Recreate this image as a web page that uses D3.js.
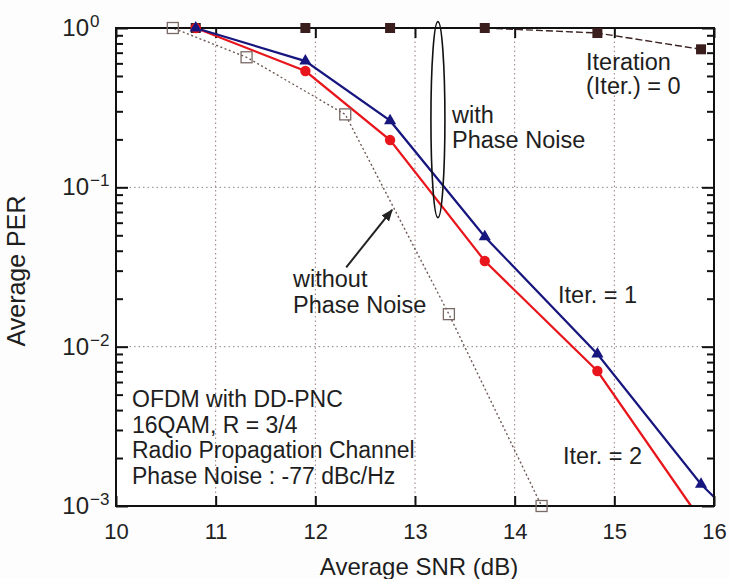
<!DOCTYPE html>
<html>
<head>
<meta charset="utf-8">
<script src="https://cdn.jsdelivr.net/npm/d3@7"></script>
<style>
  body { margin: 0; background: #fdfdfd; }
  svg { display: block; font-family: "Liberation Sans", Arial, sans-serif; }
</style>
</head>
<body>
<svg id="chart" width="729" height="579"></svg>
<script>
// ---- Data ----
const xTicks = [10, 11, 12, 13, 14, 15, 16];
const yMajorTicks = [1, 0.1, 0.01, 0.001];
const yTickExponents = ["0", "−1", "−2", "−3"];

// Iteration 0 (with phase noise)
const iter0X = [10.0, 10.8, 11.9, 12.75, 13.7, 14.83, 15.87];
const iter0Y = [1, 1, 1, 1, 1, 0.93, 0.735];
const iter0Marker = [false, true, true, true, true, true, true];

// Iteration 1 (with phase noise)
const iter1X = [10.0, 10.8, 11.9, 12.75, 13.7, 14.83, 15.87, 16.0];
const iter1Y = [1, 1, 0.62, 0.262, 0.049, 0.009, 0.00137, 0.00114];
const iter1Marker = [false, true, true, true, true, true, true, false];

// Iteration 2 (with phase noise)
const iter2X = [10.0, 10.8, 11.9, 12.75, 13.7, 14.83, 15.77];
const iter2Y = [1, 1, 0.537, 0.198, 0.0345, 0.00703, 0.001];
const iter2Marker = [false, true, true, true, true, true, false];

// Without phase noise
const noPnX = [10.0, 10.57, 11.31, 12.3, 13.34, 14.27];
const noPnY = [1, 1, 0.655, 0.287, 0.016, 0.001];
const noPnMarker = [false, true, true, true, true, true];

// ---- Layout ----
const svg = d3.select("#chart");
const pL = 116, pR = 714, pT = 28, pB = 506;
const x = d3.scaleLinear().domain([10, 16]).range([pL, pR]);
const y = d3.scaleLog().domain([0.001, 1]).range([pB, pT]);

svg.append("rect").attr("width", 729).attr("height", 579).attr("fill", "#fdfdfd");
svg.append("rect").attr("x", pL).attr("y", pT).attr("width", pR - pL).attr("height", pB - pT).attr("fill", "#ffffff");

// grid
const grid = svg.append("g");
grid.selectAll("line.vx").data(xTicks.slice(1, -1)).join("line")
  .attr("x1", d => x(d)).attr("x2", d => x(d)).attr("y1", pT).attr("y2", pB)
  .attr("stroke", "#9a7a78").attr("stroke-width", 1).attr("stroke-dasharray", "1.5,3");
grid.selectAll("line.hy").data([0.1, 0.01]).join("line")
  .attr("x1", pL).attr("x2", pR).attr("y1", d => y(d)).attr("y2", d => y(d))
  .attr("stroke", "#888").attr("stroke-width", 1).attr("stroke-dasharray", "1.5,3");

// minor y ticks
const yMinor = [];
[0.001, 0.01, 0.1].forEach(b => { for (let k = 2; k <= 9; k++) yMinor.push(b * k); });

function styleAxis(g) {
  g.select(".domain").remove();
  g.selectAll(".tick line").attr("stroke", "#111").attr("stroke-width", 2);
}

svg.append("g").attr("transform", `translate(0,${pB})`)
  .call(d3.axisBottom(x).tickValues(xTicks).tickSize(-10).tickPadding(17).tickFormat(d3.format("d")))
  .call(styleAxis)
  .call(g => g.selectAll("text").attr("font-size", 22).attr("fill", "#222").attr("font-family", "Liberation Sans, Arial, sans-serif"));
svg.append("g").attr("transform", `translate(0,${pT})`)
  .call(d3.axisTop(x).tickValues(xTicks).tickSize(-10).tickFormat(""))
  .call(styleAxis);

svg.append("g").attr("transform", `translate(${pL},0)`)
  .call(d3.axisLeft(y).tickValues(yMajorTicks).tickSize(-12).tickFormat(""))
  .call(styleAxis);
svg.append("g").attr("transform", `translate(${pL},0)`)
  .call(d3.axisLeft(y).tickValues(yMinor).tickSize(-7).tickFormat(""))
  .call(styleAxis);
svg.append("g").attr("transform", `translate(${pR},0)`)
  .call(d3.axisRight(y).tickValues(yMajorTicks).tickSize(-12).tickFormat(""))
  .call(styleAxis);
svg.append("g").attr("transform", `translate(${pR},0)`)
  .call(d3.axisRight(y).tickValues(yMinor).tickSize(-7).tickFormat(""))
  .call(styleAxis);

// y tick labels 10^n
const yl = svg.append("g").attr("fill", "#222");
yMajorTicks.forEach((v, i) => {
  yl.append("text").attr("x", 89).attr("y", y(v) + 8).attr("text-anchor", "end")
    .attr("font-size", 24).text("10");
  yl.append("text").attr("x", 90).attr("y", y(v) - 1).attr("font-size", 17).text(yTickExponents[i]);
});

// lines
const line = d3.line().x(d => x(d[0])).y(d => y(d[1]));
const defs = svg.append("defs");
defs.append("clipPath").attr("id", "clip")
  .append("rect").attr("x", pL).attr("y", pT - 2).attr("width", pR - pL).attr("height", pB - pT + 4);
const lines = svg.append("g").attr("clip-path", "url(#clip)");

const zip = (xs, ys) => xs.map((v, i) => [v, ys[i]]);

lines.append("path").datum(zip(noPnX, noPnY)).attr("d", line)
  .attr("fill", "none").attr("stroke", "#6e5a55").attr("stroke-width", 1.4).attr("stroke-dasharray", "2,2.5");
lines.append("path").datum(zip(iter0X, iter0Y)).attr("d", line)
  .attr("fill", "none").attr("stroke", "#3b2222").attr("stroke-width", 1.4).attr("stroke-dasharray", "7,3");
lines.append("path").datum(zip(iter2X, iter2Y)).attr("d", line)
  .attr("fill", "none").attr("stroke", "#e8161c").attr("stroke-width", 2.2);
lines.append("path").datum(zip(iter1X, iter1Y)).attr("d", line)
  .attr("fill", "none").attr("stroke", "#16167e").attr("stroke-width", 2.2);

// frame
svg.append("rect").attr("x", pL).attr("y", pT).attr("width", pR - pL).attr("height", pB - pT)
  .attr("fill", "none").attr("stroke", "#111").attr("stroke-width", 2);

// markers
const mk = svg.append("g");
mk.selectAll("rect.op").data(zip(noPnX, noPnY).filter((d, i) => noPnMarker[i])).join("rect")
  .attr("x", d => x(d[0]) - 5.5).attr("y", d => y(d[1]) - 5.5).attr("width", 11).attr("height", 11)
  .attr("fill", "none").attr("stroke", "#7a6a65").attr("stroke-width", 1.3);
mk.selectAll("rect.fi").data(zip(iter0X, iter0Y).filter((d, i) => iter0Marker[i])).join("rect")
  .attr("x", d => x(d[0]) - 5).attr("y", d => y(d[1]) - 5).attr("width", 10).attr("height", 10)
  .attr("fill", "#3a1e1e");
mk.selectAll("circle").data(zip(iter2X, iter2Y).filter((d, i) => iter2Marker[i])).join("circle")
  .attr("cx", d => x(d[0])).attr("cy", d => y(d[1])).attr("r", 5.2).attr("fill", "#e8161c");
const tri = d3.symbol().type(d3.symbolTriangle).size(64);
mk.selectAll("path.tr").data(zip(iter1X, iter1Y).filter((d, i) => iter1Marker[i])).join("path")
  .attr("d", tri).attr("transform", d => `translate(${x(d[0])},${y(d[1])})`).attr("fill", "#16167e");

// ellipse marking "with Phase Noise"
const ellX = 13.23, ellTop = Math.pow(10, 0.04), ellBot = Math.pow(10, -1.19);
svg.append("ellipse")
  .attr("cx", x(ellX)).attr("cy", (y(ellTop) + y(ellBot)) / 2)
  .attr("rx", 7).attr("ry", (y(ellBot) - y(ellTop)) / 2)
  .attr("fill", "none").attr("stroke", "#111").attr("stroke-width", 1.6);

// arrow for "without Phase Noise"
const arrFrom = [12.31, 0.0315], arrTo = [12.77, 0.0721];
defs.append("marker").attr("id", "ah").attr("viewBox", "0 0 10 10")
  .attr("refX", 9).attr("refY", 5).attr("markerWidth", 6).attr("markerHeight", 6)
  .attr("orient", "auto").attr("markerUnits", "strokeWidth")
  .append("path").attr("d", "M0,1 L10,5 L0,9 Z").attr("fill", "#222");
svg.append("line")
  .attr("x1", x(arrFrom[0])).attr("y1", y(arrFrom[1]))
  .attr("x2", x(arrTo[0])).attr("y2", y(arrTo[1]))
  .attr("stroke", "#222").attr("stroke-width", 2).attr("marker-end", "url(#ah)");

// annotations
const ann = svg.append("g").attr("fill", "#1e1e1e").attr("font-size", 23.5);
function multi(xp, yp, rows, dy) {
  rows.forEach((s, i) => ann.append("text").attr("x", xp).attr("y", yp + i * dy).text(s));
}
multi(586, 70, ["Iteration", "(Iter.) = 0"], 24);
multi(452, 123, ["with", "Phase Noise"], 25);
multi(293, 287, ["without", "Phase Noise"], 26);
multi(558, 303, ["Iter. = 1"], 0);
multi(563, 464, ["Iter. = 2"], 0);
const box = svg.append("g").attr("fill", "#1e1e1e").attr("font-size", 23);
["OFDM with DD-PNC", "16QAM, R = 3/4", "Radio Propagation Channel", "Phase Noise : -77 dBc/Hz"]
  .forEach((s, i) => box.append("text").attr("x", 132).attr("y", 407 + i * 25.6).text(s));

// axis titles
svg.append("text").attr("x", 419).attr("y", 575).attr("text-anchor", "middle")
  .attr("font-size", 24).attr("fill", "#1e1e1e").text("Average SNR (dB)");
svg.append("text").attr("transform", "translate(25,271) rotate(-90)").attr("text-anchor", "middle")
  .attr("font-size", 25).attr("fill", "#1e1e1e").text("Average PER");
</script>
</body>
</html>
